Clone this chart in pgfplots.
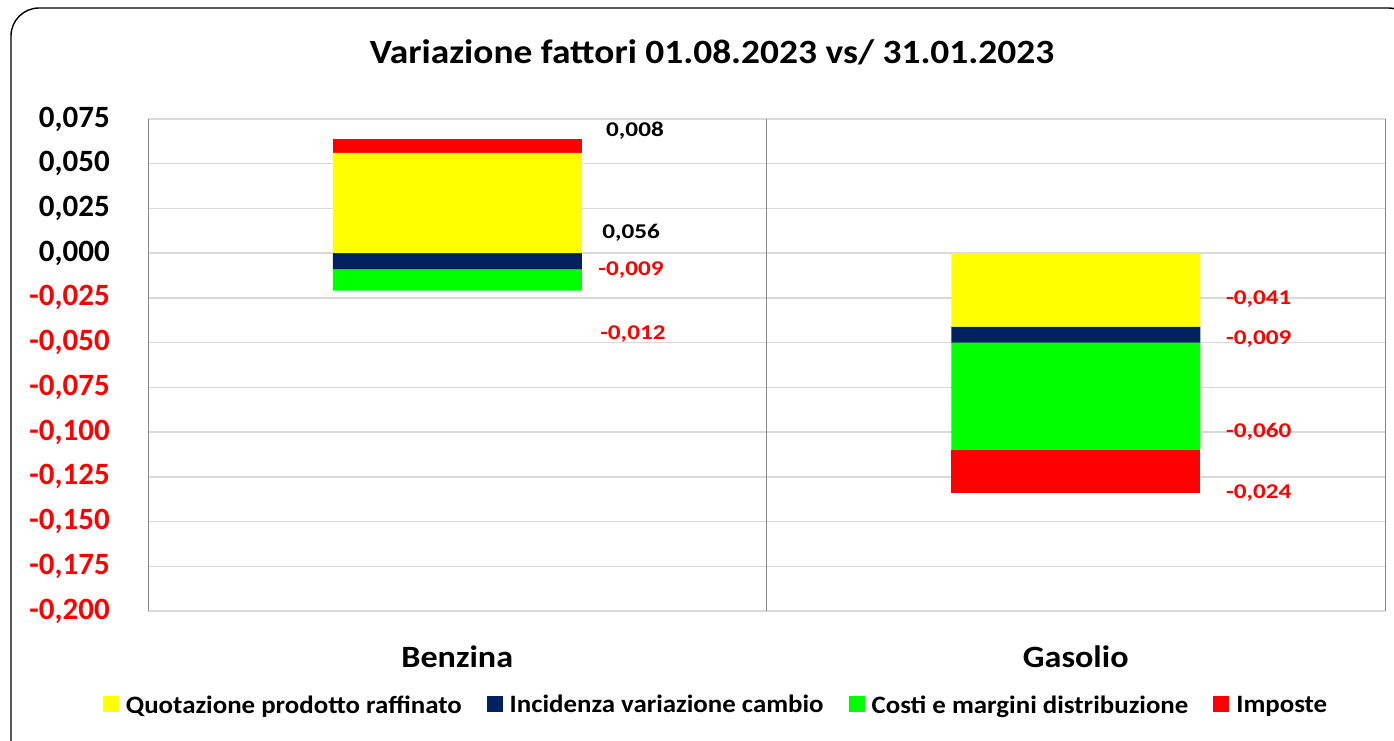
\documentclass[border=0pt]{standalone}
\usepackage{fontspec}
\setmainfont{Carlito}
\usepackage{graphicx}
\usepackage{pgfplots}
\pgfplotsset{compat=1.18}
\definecolor{cYel}{HTML}{FFFF00}
\definecolor{cNavy}{HTML}{002060}
\definecolor{cGreen}{HTML}{00FF00}
\definecolor{cRed}{HTML}{FF0000}
\definecolor{gridc}{HTML}{D9D9D9}
\definecolor{sepc}{HTML}{868686}
\tikzset{dlab/.style={font=\fontsize{21}{24}\selectfont\bfseries}}
\newcommand{\sx}[2]{\scalebox{#1}[1]{#2}}
\begin{document}
\begin{tikzpicture}
\useasboundingbox (0pt,0pt) rectangle (1394pt,741pt);
% chart frame
\draw[black, line width=1.4pt, rounded corners=28pt] (11pt,-40pt) rectangle (1416pt,733pt);
% title
\node[font=\fontsize{34}{37}\selectfont\bfseries] at (712pt,689pt) {\sx{1.1}{Variazione fattori 01.08.2023 vs/ 31.01.2023}};
\begin{axis}[
  at={(148pt,130pt)}, anchor=south west,
  width=1237pt, height=492pt, scale only axis,
  ybar stacked, bar width=249pt,
  xmin=0.5, xmax=2.5, ymin=-0.2, ymax=0.075,
  axis line style={draw=none},
  xtick={1,2}, xticklabels={\sx{1.1}{Benzina},\sx{1.1}{Gasolio}},
  major tick length=0pt,
  x tick label style={font=\fontsize{31}{34}\selectfont\bfseries, anchor=center, yshift=-46pt},
  extra x ticks={0.5,1.5,2.5}, extra x tick labels={},
  extra x tick style={grid=major, major grid style={sepc, line width=1pt}},
  ytick={-0.2,-0.175,-0.15,-0.125,-0.1,-0.075,-0.05,-0.025,0,0.025,0.05,0.075},
  yticklabels={{\textcolor{cRed}{-0,200}},{\textcolor{cRed}{-0,175}},{\textcolor{cRed}{-0,150}},{\textcolor{cRed}{-0,125}},{\textcolor{cRed}{-0,100}},{\textcolor{cRed}{-0,075}},{\textcolor{cRed}{-0,050}},{\textcolor{cRed}{-0,025}},{0,000},{0,025},{0,050},{0,075}},
  y tick label style={font=\fontsize{31}{34}\selectfont\bfseries, inner sep=0pt, anchor=east, xshift=-38pt},
  ymajorgrids, major grid style={gridc, line width=1.5pt},
  legend columns=4,
  legend style={at={(axis description cs:0.4592,-0.191)}, anchor=center, draw=none,
    font=\fontsize{25}{28}\selectfont\bfseries,
    /tikz/every even column/.append style={column sep=23pt},
    /tikz/every odd column/.append style={column sep=5pt}},
  legend image code/.code={\fill[#1] (0pt,-7pt) rectangle (16pt,9pt);},
]
% Quotazione prodotto raffinato
\addplot[fill=cYel, draw=none] coordinates {(1,0.056) (2,-0.041)};
% Imposte (positive part, Benzina)
\addplot[fill=cRed, draw=none, forget plot] coordinates {(1,0.008) (2,0)};
% Incidenza variazione cambio
\addplot[fill=cNavy, draw=none] coordinates {(1,-0.009) (2,-0.009)};
% Costi e margini distribuzione
\addplot[fill=cGreen, draw=none] coordinates {(1,-0.012) (2,-0.060)};
% Imposte (negative part, Gasolio)
\addplot[fill=cRed, draw=none] coordinates {(1,0) (2,-0.024)};
\legend{\sx{1.075}{Quotazione prodotto raffinato},\sx{1.075}{Incidenza variazione cambio},\sx{1.075}{Costi e margini distribuzione},\sx{1.075}{Imposte}}
% data labels
\node[dlab, black] at (axis cs:1.2874,0.0683) {\sx{1.2}{0,008}};
\node[dlab, black] at (axis cs:1.281,0.0113) {\sx{1.2}{0,056}};
\node[dlab, cRed] at (axis cs:1.281,-0.0094) {\sx{1.2}{-0,009}};
\node[dlab, cRed] at (axis cs:1.284,-0.0452) {\sx{1.2}{-0,012}};
\node[dlab, cRed] at (axis cs:2.296,-0.0256) {\sx{1.2}{-0,041}};
\node[dlab, cRed] at (axis cs:2.296,-0.0480) {\sx{1.2}{-0,009}};
\node[dlab, cRed] at (axis cs:2.296,-0.1000) {\sx{1.2}{-0,060}};
\node[dlab, cRed] at (axis cs:2.296,-0.1340) {\sx{1.2}{-0,024}};
\end{axis}
\end{tikzpicture}
\end{document}
